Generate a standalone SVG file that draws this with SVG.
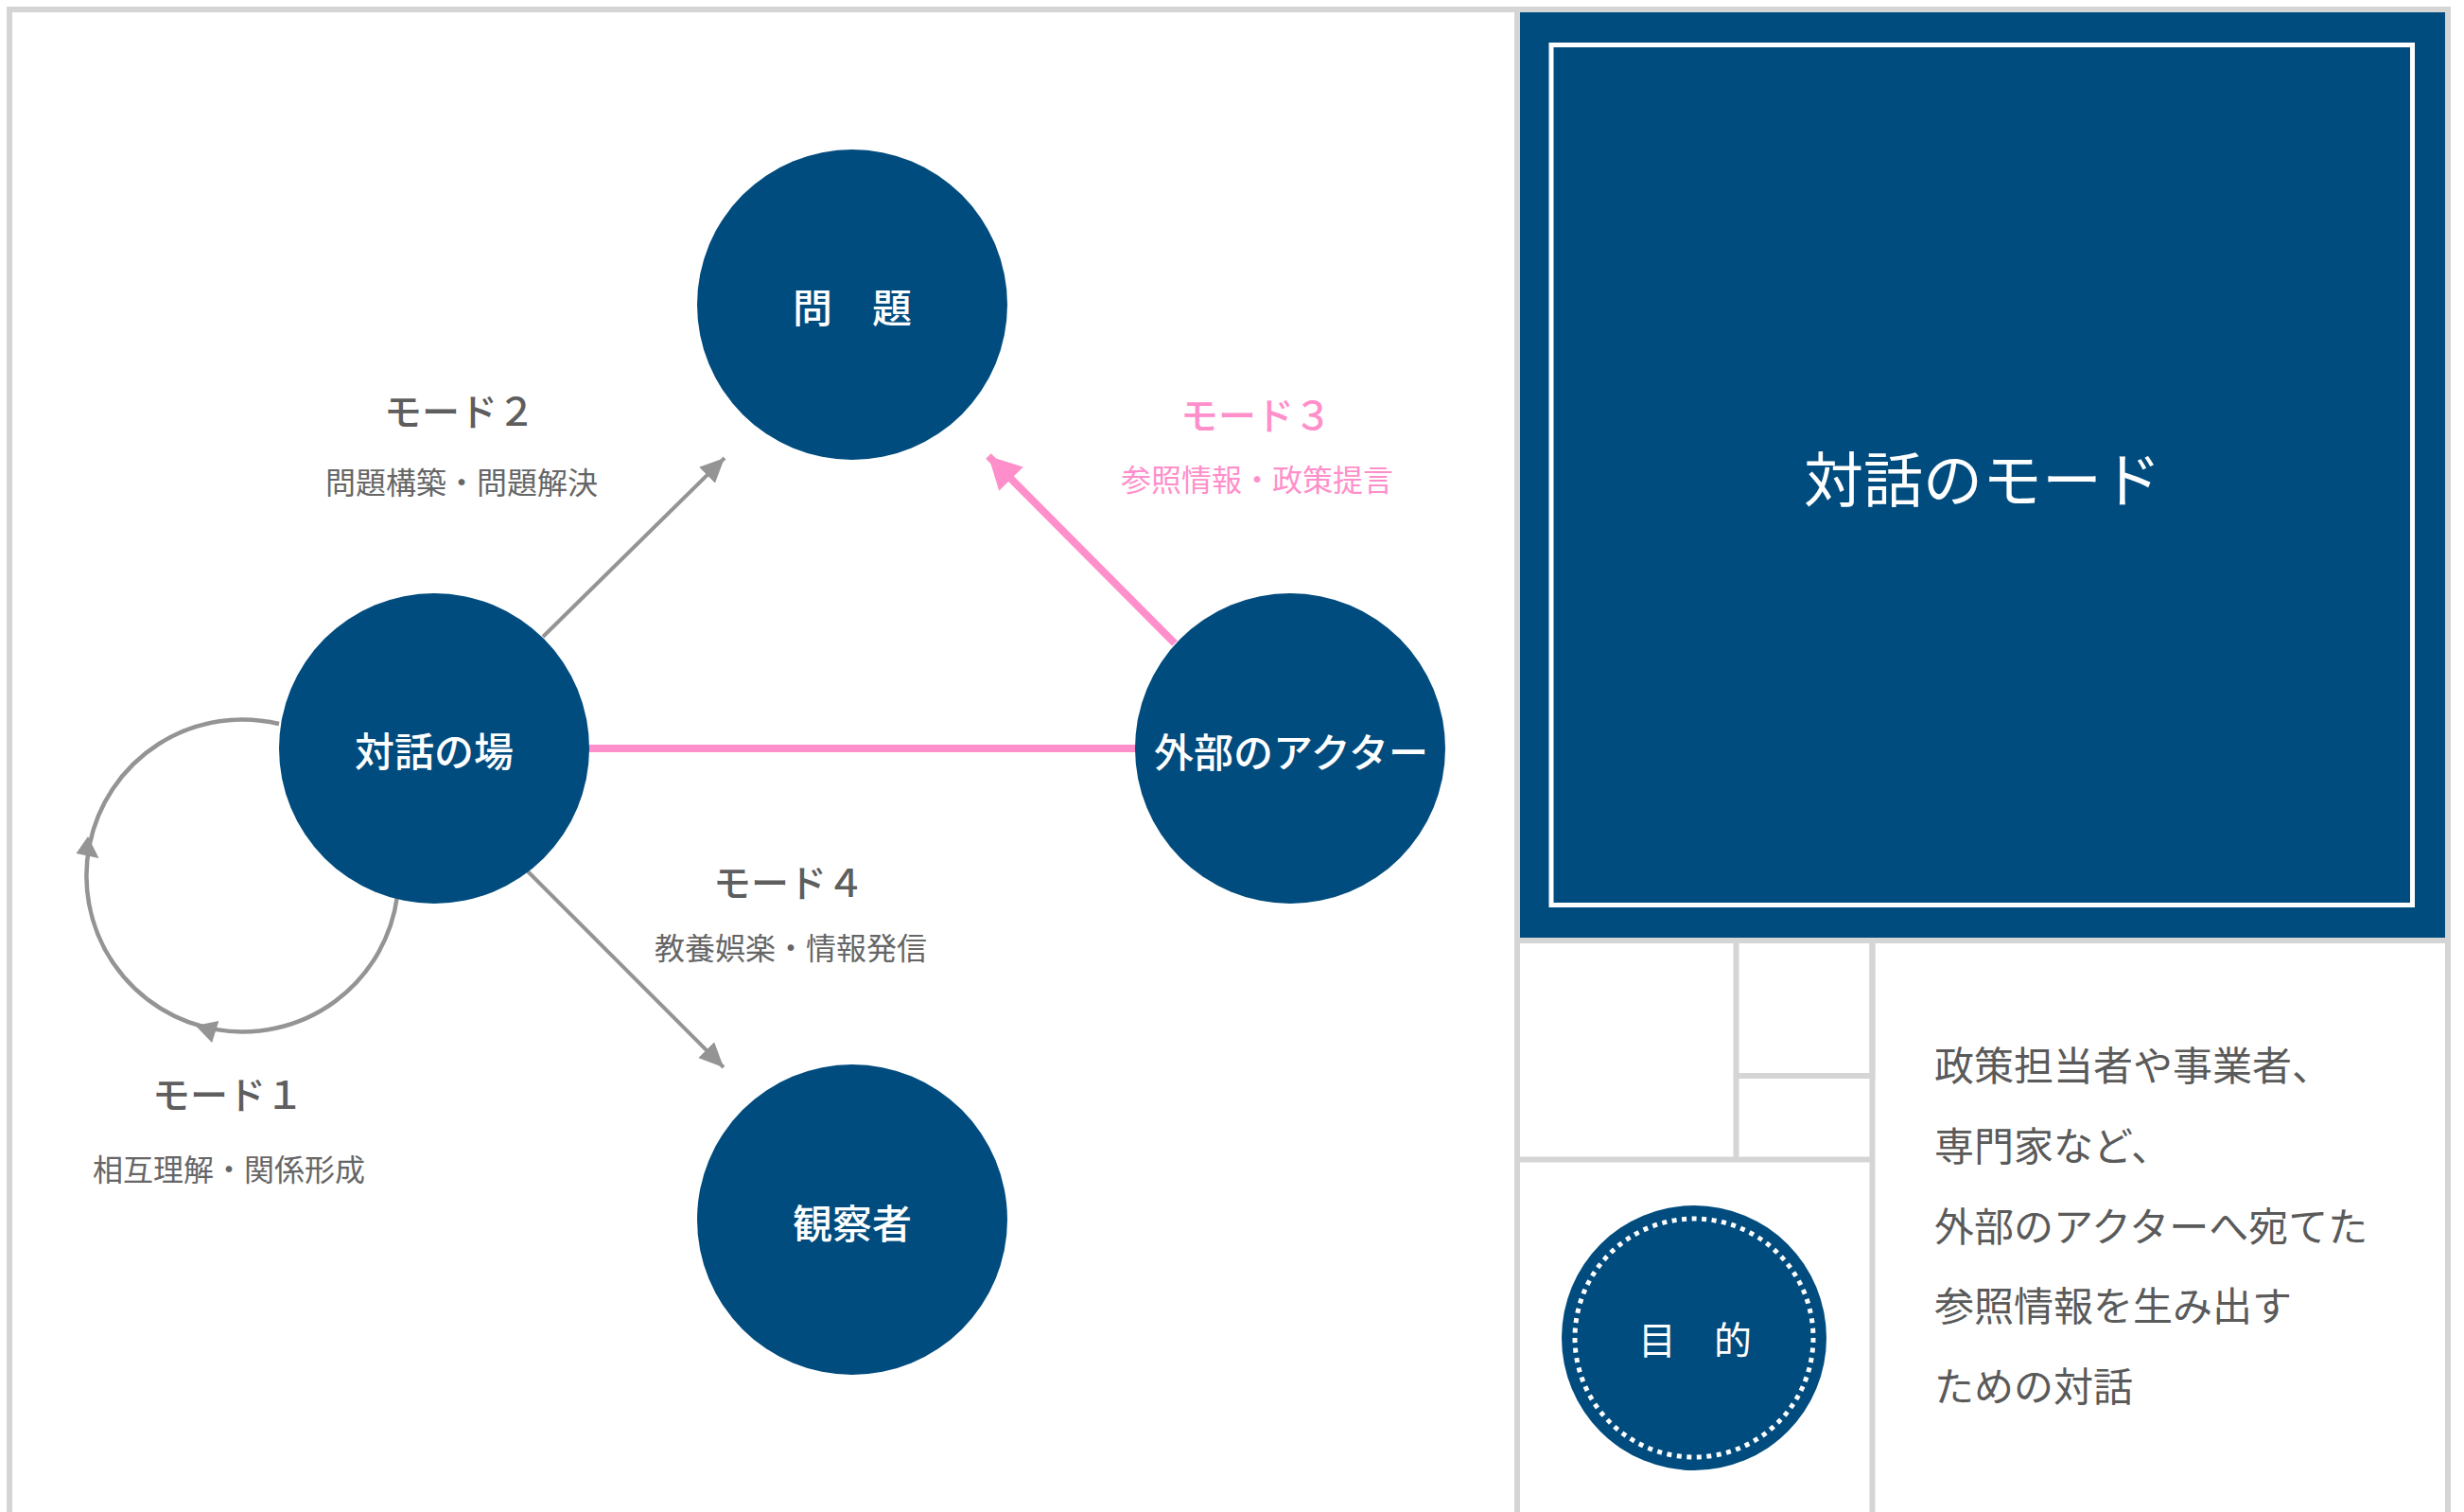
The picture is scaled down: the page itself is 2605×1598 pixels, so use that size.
<svg xmlns="http://www.w3.org/2000/svg" width="2605" height="1598" viewBox="0 0 2605 1598">
<style>
text{font-family:"Noto Sans CJK JP","Noto Sans",sans-serif;}
.panel{fill:#ffffff;stroke:#d5d5d5;stroke-width:6;}
.grid{fill:none;stroke:#d5d5d5;stroke-width:6;}
.node{fill:#014c7e;}
.nlabel{fill:#ffffff;font-size:42px;font-weight:500;text-anchor:middle;dominant-baseline:central;}
.mode{fill:#5e5e5e;font-size:40px;font-weight:500;text-anchor:middle;}
.sub{fill:#666666;font-size:32px;font-weight:400;text-anchor:middle;}
.pink{fill:#ff8fca;}
.garrow{stroke:#949494;stroke-width:4;fill:none;}
.loop{stroke:#949494;stroke-width:4.5;fill:none;}
.parrow{stroke:#ff8fca;stroke-width:8;fill:none;}
.body{fill:#5a5a5a;font-size:42px;font-weight:400;}
</style>
<defs>
<marker id="ag" markerUnits="userSpaceOnUse" markerWidth="28" markerHeight="26" refX="26" refY="12" orient="auto">
<path d="M0,0 L26,12 L0,24 Z" fill="#949494"/>
</marker>
<marker id="ap" markerUnits="userSpaceOnUse" markerWidth="36" markerHeight="38" refX="34" refY="18" orient="auto">
<path d="M0,0 L34,18 L0,36 Z" fill="#ff8fca"/>
</marker>
</defs>
<rect width="2605" height="1598" fill="#ffffff"/>
<g id="frames">
<rect class="panel" x="10" y="10" width="1594" height="1620"/>
<rect x="1604" y="10" width="984" height="984" fill="#014c7e" stroke="#d5d5d5" stroke-width="6"/>
<rect x="1640" y="47.5" width="910.5" height="909" fill="none" stroke="#ffffff" stroke-width="5"/>
<rect class="panel" x="1604" y="994" width="984" height="640"/>
<rect class="grid" x="1835.5" y="994" width="144" height="143"/>
<line class="grid" x1="1835.5" y1="1137" x2="1835.5" y2="1225.5"/>
<line class="grid" x1="1979.5" y1="994" x2="1979.5" y2="1620"/>
<line class="grid" x1="1604" y1="1225.5" x2="1979.5" y2="1225.5"/>
</g>
<g id="connectors">
<path class="loop" d="M420,947 A165,165 0 1 1 295,765"/>
<polygon points="93,884 104.5,907 80.5,902" fill="#949494"/>
<polygon points="206.7,1084 231.3,1079 224.1,1102" fill="#949494"/>
<line class="garrow" x1="574" y1="673" x2="766" y2="484" marker-end="url(#ag)"/>
<line class="garrow" x1="557" y1="920" x2="765" y2="1128" marker-end="url(#ag)"/>
<line class="parrow" x1="1242" y1="680" x2="1045" y2="482" marker-end="url(#ap)"/>
<line class="parrow" x1="600" y1="791" x2="1230" y2="791"/>
</g>
<g id="node-mondai">
<circle class="node" cx="901" cy="322" r="164"/>
<text class="nlabel" x="901" y="322">問　題</text>
</g>
<g id="node-taiwa">
<circle class="node" cx="459" cy="791" r="164"/>
<text class="nlabel" x="459" y="791">対話の場</text>
</g>
<g id="node-gaibu">
<circle class="node" cx="1364" cy="791" r="164"/>
<text class="nlabel" x="1365" y="792">外部のアクター</text>
</g>
<g id="node-kansatsu">
<circle class="node" cx="901" cy="1289" r="164"/>
<text class="nlabel" x="901" y="1290">観察者</text>
</g>
<g id="labels">
<text class="mode" x="486" y="450">モード２</text>
<text class="sub" x="488" y="522">問題構築・問題解決</text>
<text class="mode pink" x="1328" y="454">モード３</text>
<text class="sub pink" x="1329" y="519">参照情報・政策提言</text>
<text class="mode" x="834" y="948">モード４</text>
<text class="sub" x="836" y="1014">教養娯楽・情報発信</text>
<text class="mode" x="241" y="1172">モード１</text>
<text class="sub" x="242" y="1248">相互理解・関係形成</text>
</g>
<g id="title">
<text x="2096" y="502" fill="#ffffff" font-size="63" text-anchor="middle" dominant-baseline="central">対話のモード</text>
</g>
<g id="node-mokuteki">
<circle class="node" cx="1791" cy="1414" r="140"/>
<circle cx="1791" cy="1414" r="126" fill="none" stroke="#ffffff" stroke-width="5" stroke-dasharray="5 5.556"/>
<text x="1792" y="1414" fill="#ffffff" font-size="40" text-anchor="middle" dominant-baseline="central">目　的</text>
</g>
<g id="description">
<text class="body" x="2045" y="1142">政策担当者や事業者、</text>
<text class="body" x="2045" y="1227">専門家など、</text>
<text class="body" x="2045" y="1312">外部のアクターへ宛てた</text>
<text class="body" x="2045" y="1396">参照情報を生み出す</text>
<text class="body" x="2045" y="1481">ための対話</text>
</g>
</svg>
